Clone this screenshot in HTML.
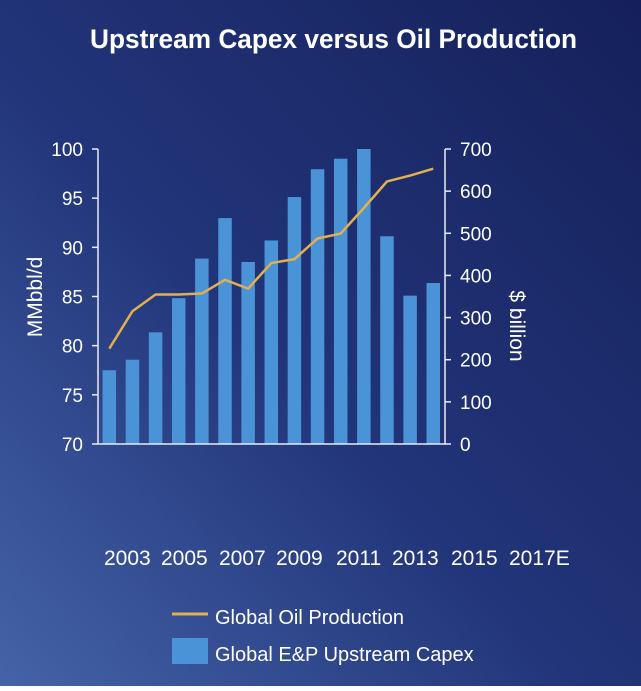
<!DOCTYPE html>
<html><head><meta charset="utf-8"><style>
html,body{margin:0;padding:0;}
body{width:641px;height:686px;overflow:hidden;font-family:"Liberation Sans",sans-serif;}
</style></head><body>
<svg id="chart" width="641" height="686" xmlns="http://www.w3.org/2000/svg" font-family="Liberation Sans, sans-serif">
<defs>
<linearGradient id="bg" x1="1" y1="0" x2="0" y2="1">
<stop offset="0" stop-color="#15205a"/>
<stop offset="0.55" stop-color="#22357a"/>
<stop offset="1" stop-color="#4563a8"/>
</linearGradient>
</defs>
<rect width="641" height="686" fill="url(#bg)"/>
<text x="90" y="48" fill="#fff" font-size="27" font-weight="bold" textLength="487" lengthAdjust="spacingAndGlyphs">Upstream Capex versus Oil Production</text>
<g id="plot"></g>
<text transform="translate(42,297) rotate(-90)" fill="#fff" font-size="21" text-anchor="middle">MMbbl/d</text>
<text transform="translate(510,326) rotate(90)" fill="#fff" font-size="21" text-anchor="middle">$ billion</text>
<g fill="#fff" font-size="21">
<text x="104" y="565">2003</text><text x="161" y="565">2005</text><text x="219" y="565">2007</text><text x="276" y="565">2009</text><text x="336" y="565">2011</text><text x="392" y="565">2013</text><text x="451" y="565">2015</text><text x="509" y="565">2017E</text>
</g>
<g>
<line x1="172" y1="614" x2="208" y2="614" stroke="#e3b04e" stroke-width="3"/>
<text x="215" y="624" fill="#fff" font-size="20">Global Oil Production</text>
<rect x="172" y="638" width="36" height="26" fill="#4a93d6"/>
<text x="215" y="661" fill="#fff" font-size="20">Global E&amp;P Upstream Capex</text>
</g>
</svg>
<script>
const years=[2000,2001,2002,2003,2004,2005,2006,2007,2008,2009,2010,2011,2012,2013,2014];
const capex=[175,200,265,346,440,536,432,483,586,652,677,700,493,352,382];
const production=[79.7,83.5,85.2,85.2,85.3,86.7,85.8,88.4,88.8,90.9,91.4,94.0,96.7,97.3,98.0];
const leftTicks=[70,75,80,85,90,95,100];
const rightTicks=[0,100,200,300,400,500,600,700];
const NS="http://www.w3.org/2000/svg";
const plotG=document.getElementById('plot');
const plotTop=149,plotBot=444,axL=98,axR=445,x0=109.3,step=23.14,bw=13.5;
const yL=v=>plotBot-(v-70)/30*(plotBot-plotTop);
const yR=v=>plotBot-v/700*(plotBot-plotTop);
const xi=i=>x0+i*step;
function mk(t,a){const e=document.createElementNS(NS,t);for(const k in a)e.setAttribute(k,a[k]);plotG.appendChild(e);return e;}
capex.forEach((v,i)=>{
const r=mk('rect',{x:xi(i)-bw/2,y:yR(v),width:bw,height:plotBot-yR(v),fill:'#4a93d6'});


});
const axes=mk('path',{d:`M${axL},${plotTop}V${plotBot}H${axR}V${plotTop}`,stroke:'#e8ecf5','stroke-width':1.5,fill:'none'});


leftTicks.forEach(v=>{
const y=yL(v);
const tk=mk('line',{x1:axL-6,x2:axL,y1:y,y2:y,stroke:'#e8ecf5','stroke-width':1.5});


const t=mk('text',{x:axL-15,y:y+7,fill:'#fff','font-size':19,'text-anchor':'end'});t.textContent=v;


});
rightTicks.forEach(v=>{
const y=yR(v);
const tk=mk('line',{x1:axR,x2:axR+6,y1:y,y2:y,stroke:'#e8ecf5','stroke-width':1.5});


const t=mk('text',{x:axR+15,y:y+7,fill:'#fff','font-size':19});t.textContent=v;


});
const line=mk('polyline',{points:production.map((v,i)=>xi(i)+','+yL(v)).join(' '),fill:'none',stroke:'#e3b04e','stroke-width':2.5,'stroke-linejoin':'round'});


</script>
</body></html>
